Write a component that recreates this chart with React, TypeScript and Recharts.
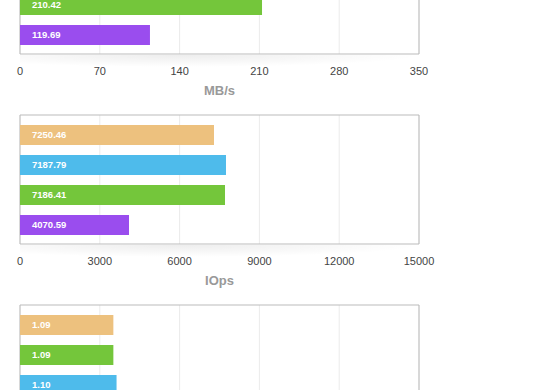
import { BarChart, Bar, XAxis, YAxis, CartesianGrid, Cell, LabelList } from 'recharts'

const COLORS: Record<string, string> = {
  'Config A': '#EDC17E',
  'Config B': '#4EBBEB',
  'Config C': '#74C63B',
  'Config D': '#9A4DEE'
}

// throughput panel (partly above the frame)
const MBS_NAMES = ['Config A', 'Config B', 'Config C', 'Config D']
const MBS_VALUES = [214.6, 213.1, 212.3, 114.0]
const MBS_LABELS = ['212.85', '211.37', '210.42', '119.69']
const MBS_TICKS = [0, 70, 140, 210, 280, 350]

// IOps panel
const IOPS_NAMES = ['Config A', 'Config B', 'Config C', 'Config D']
const IOPS_VALUES = [7293, 7744, 7707, 4098]
const IOPS_LABELS = ['7250.46', '7187.79', '7186.41', '4070.59']
const IOPS_TICKS = [0, 3000, 6000, 9000, 12000, 15000]

// latency panel (partly below the frame)
const LAT_NAMES = ['Config A', 'Config C', 'Config B', 'Config D']
const LAT_VALUES = [1.17, 1.17, 1.21, 2.06]
const LAT_LABELS = ['1.09', '1.09', '1.10', '1.95']
const LAT_TICKS = [0, 1, 2, 3, 4, 5]

interface PanelProps {
  names: string[]
  values: number[]
  labels: string[]
  ticks: number[]
  unit: string
  top: number
}

type GridArgs = { offset: { top: number; left: number; width: number; height: number } }

// outline of the plot area, taken from the chart's own offset
const boxRows = ({ offset }: GridArgs) => [offset.top, offset.top + offset.height]
const boxCols = ({ offset }: GridArgs) => [offset.left, offset.left + offset.width]

function Panel({ names, values, labels, ticks, unit, top }: PanelProps) {
  const data = names.map((name, i) => ({ name, value: values[i], label: labels[i] }))
  const max = ticks[ticks.length - 1]

  return (
    <div style={{ position: 'absolute', left: 0, top, width: 560, height: 190 }}>
      <div
        style={{
          position: 'absolute',
          left: 20,
          top: 145,
          width: 400,
          height: 12,
          background: 'radial-gradient(ellipse 60% 100% at 40% 0%, rgba(0,0,0,0.07), rgba(0,0,0,0))'
        }}
      />
      <BarChart
        width={560}
        height={190}
        data={data}
        layout="vertical"
        margin={{ top: 15, right: 141, left: 20, bottom: 0 }}
        style={{ position: 'absolute', left: 0, top: 0 }}
      >
        <CartesianGrid horizontal={false} stroke="#ebebeb" />
        <CartesianGrid
          stroke="#bbb"
          horizontalCoordinatesGenerator={boxRows}
          verticalCoordinatesGenerator={boxCols}
        />
        <XAxis
          type="number"
          domain={[0, max]}
          ticks={ticks}
          height={46}
          tickLine={false}
          axisLine={false}
          tickMargin={7}
          tick={{ fill: '#444', fontSize: 11 }}
          label={{ value: unit, position: 'insideBottom', offset: 5, fill: '#999', fontSize: 13, fontWeight: 'bold' }}
        />
        <YAxis
          type="category"
          dataKey="name"
          width={0}
          tick={false}
          tickLine={false}
          axisLine={false}
          padding={{ top: 5, bottom: 4 }}
        />
        <Bar dataKey="value" barSize={20} isAnimationActive={false}>
          {data.map((d) => (
            <Cell key={d.name} fill={COLORS[d.name]} />
          ))}
          <LabelList dataKey="label" position="insideLeft" offset={12} fill="#fff" fontSize={9.5} fontWeight="bold" />
        </Bar>
      </BarChart>
    </div>
  )
}

export default function App() {
  return (
    <div
      style={{
        position: 'fixed',
        left: 0,
        top: 0,
        width: 560,
        height: 390,
        overflow: 'hidden',
        background: '#fff',
        fontFamily: '"Liberation Sans", Arial, sans-serif'
      }}
    >
      <Panel names={MBS_NAMES} values={MBS_VALUES} labels={MBS_LABELS} ticks={MBS_TICKS} unit="MB/s" top={-90} />
      <Panel names={IOPS_NAMES} values={IOPS_VALUES} labels={IOPS_LABELS} ticks={IOPS_TICKS} unit="IOps" top={100} />
      <Panel names={LAT_NAMES} values={LAT_VALUES} labels={LAT_LABELS} ticks={LAT_TICKS} unit="ms" top={290} />
    </div>
  )
}
